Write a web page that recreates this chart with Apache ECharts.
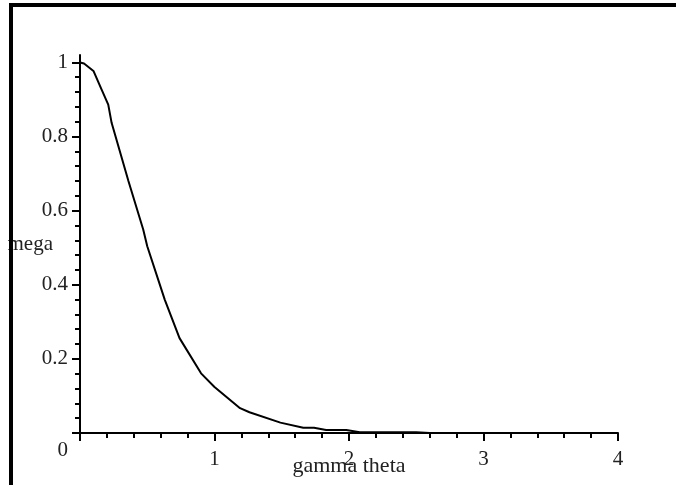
<!DOCTYPE html>
<html><head><meta charset="utf-8">
<script src="https://cdn.jsdelivr.net/npm/echarts@6/dist/echarts.min.js"></script>
<style>
html,body{margin:0;padding:0;background:#fff;overflow:hidden}
#wrap{position:relative;width:676px;height:485px}
#c{position:absolute;left:0;top:0;width:676px;height:485px}
#frame{position:absolute;left:9px;top:3px;right:0;bottom:0;border-left:4px solid #000;border-top:4px solid #000;pointer-events:none}
</style></head><body>
<div id="wrap"><div id="c"></div><div id="frame"></div></div>
<script>
const xValues = [0, 0.03, 0.10, 0.16, 0.21, 0.235, 0.36, 0.47, 0.50, 0.63, 0.74, 0.90, 1.0, 1.19, 1.26, 1.49, 1.66, 1.74, 1.83, 1.98, 2.08, 2.50, 2.60];
const omegaValues = [1.0, 0.997, 0.977, 0.927, 0.886, 0.837, 0.68, 0.549, 0.504, 0.36, 0.256, 0.161, 0.124, 0.067, 0.056, 0.028, 0.014, 0.014, 0.008, 0.008, 0.002, 0.002, 0.0];
const yMajorTicks = [0, 0.2, 0.4, 0.6, 0.8, 1];
const yMinorTicks = [0.04, 0.08, 0.12, 0.16, 0.24, 0.28, 0.32, 0.36, 0.44, 0.48, 0.52, 0.56, 0.64, 0.68, 0.72, 0.76, 0.84, 0.88, 0.92, 0.96];
const xAxisName = 'gamma theta';
const yAxisName = 'mega';

const font = 'Liberation Serif, Times New Roman, serif';
const txt = '#222';
const fs = 21;
const data = xValues.map((x, i) => [x, omegaValues[i]]);

const chart = echarts.init(document.getElementById('c'), null, {renderer: 'canvas'});
chart.setOption({
  animation: false,
  backgroundColor: '#fff',
  grid: {left: 80, right: 58, top: 55, bottom: 52, containLabel: false, outerBoundsMode: 'none'},
  xAxis: {
    type: 'value', min: 0, max: 4, interval: 1,
    name: xAxisName, nameLocation: 'middle', nameGap: 22, nameMoveOverlap: false,
    nameTextStyle: {fontFamily: font, fontSize: 22, color: txt},
    axisLine: {show: true, onZero: false, lineStyle: {color: '#000', width: 2}},
    axisTick: {show: true, length: 8, lineStyle: {color: '#000', width: 2}},
    minorTick: {show: true, splitNumber: 5, length: 5, lineStyle: {color: '#000', width: 2}},
    axisLabel: {showMinLabel: false, margin: 16, fontFamily: font, fontSize: fs, color: txt},
    splitLine: {show: false}, minorSplitLine: {show: false}
  },
  yAxis: [{
    type: 'value', min: 0, max: 1.02,
    name: yAxisName, nameLocation: 'middle', nameGap: 27, nameRotate: 0, nameMoveOverlap: false,
    nameTextStyle: {fontFamily: font, fontSize: fs, color: txt, align: 'right', verticalAlign: 'middle', padding: [12, 0, 0, 0]},
    axisLine: {show: true, onZero: false, lineStyle: {color: '#000', width: 2}},
    axisTick: {show: true, length: 8, customValues: yMajorTicks, lineStyle: {color: '#000', width: 2}},
    axisLabel: {
      customValues: yMajorTicks, margin: 12, fontFamily: font, fontSize: fs, color: txt,
      formatter: v => v === 0 ? '{z|0}' : String(+v.toFixed(2)),
      rich: {z: {fontFamily: font, fontSize: fs, color: txt, padding: [34, 0, 0, 0]}}
    },
    splitLine: {show: false}
  }, {
    type: 'value', min: 0, max: 1.02, position: 'left', offset: 0,
    axisLine: {show: false},
    axisTick: {show: true, length: 5, customValues: yMinorTicks, lineStyle: {color: '#000', width: 2}},
    axisLabel: {show: false},
    splitLine: {show: false}
  }],
  series: [{
    type: 'line', data: data, yAxisIndex: 0, showSymbol: false, symbol: 'none',
    lineStyle: {color: '#000', width: 2}, smooth: false
  }]
});
</script>
</body></html>
